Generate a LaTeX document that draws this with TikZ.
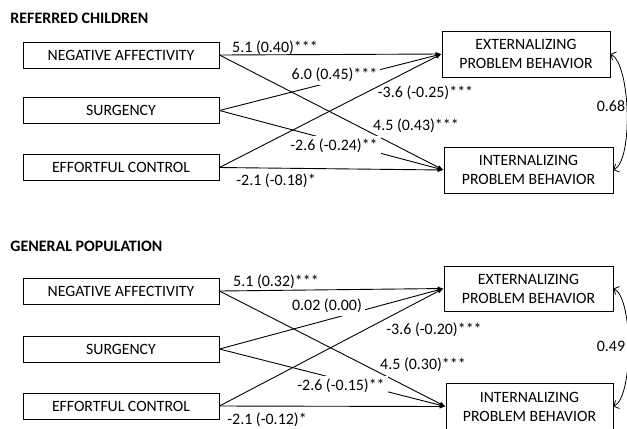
\documentclass[tikz,border=0pt]{standalone}
\usepackage{fontspec}
\setmainfont{Carlito}
\usetikzlibrary{arrows.meta}
\begin{document}
\begin{tikzpicture}[x=1bp,y=-1bp, line width=0.9bp,
  box/.style={draw, minimum width=196bp, minimum height=26bp, inner sep=0pt, font=\fontsize{15.8}{18}\selectfont},
  outbox/.style={draw, align=center, minimum width=168bp, minimum height=46bp, inner sep=0pt, font=\fontsize{15.8}{19}\selectfont},
  ttl/.style={anchor=west, inner sep=0pt, font=\fontsize{16}{18}\selectfont\bfseries},
  lab/.style={inner sep=0.5bp, font=\fontsize{16}{19}\selectfont},
  labw/.style={lab, fill=white, inner sep=3bp},
  arr/.style={-{Latex[length=6bp,width=4.5bp]}},
  cov/.style={{Straight Barb[length=4bp,width=9bp]}-{Straight Barb[length=4bp,width=9bp]}, line width=0.8bp}]
\useasboundingbox (0,0) rectangle (627,428);
% ---------- top panel ----------
\node[ttl] (t1) at (10,18) {REFERRED CHILDREN};
\node[box] (na1) at (121,55) {NEGATIVE AFFECTIVITY};
\node[box] (su1) at (121,110.5) {SURGENCY};
\node[box] (ec1) at (121,167.5) {EFFORTFUL CONTROL};
\node[outbox] (ex1) at (526,54) {EXTERNALIZING\\PROBLEM BEHAVIOR};
\node[outbox, minimum width=169bp] (in1) at (528.5,170) {INTERNALIZING\\PROBLEM BEHAVIOR};
\draw[arr] (na1.east) -- (ex1.west);
\draw[arr] (na1.east) -- (in1.west);
\draw[arr] (su1.east) -- (ex1.west);
\draw[arr] (su1.east) -- (in1.west);
\draw[arr] (ec1.east) -- (ex1.west);
\draw[arr] (ec1.east) -- (in1.west);
\draw[cov] (ex1.east) .. controls +(20,10) and +(20,-10) .. (in1.east);
\node[lab] (l11) at (275,48) {5.1 (0.40)***};
\node[labw] (l12) at (334.5,75) {6.0 (0.45)***};
\node[lab] (l13) at (425.5,93) {-3.6 (-0.25)***};
\node[lab] (l14) at (416,126) {4.5 (0.43)***};
\node[labw] (l15) at (334,146) {-2.6 (-0.24)**};
\node[lab] (l16) at (276,181) {-2.1 (-0.18)*};
\node[lab] (c1) at (611,106) {0.68};
% ---------- bottom panel ----------
\node[ttl] (t2) at (10,246.7) {GENERAL POPULATION};
\node[box] (na2) at (121,291) {NEGATIVE AFFECTIVITY};
\node[box] (su2) at (121,349) {SURGENCY};
\node[box] (ec2) at (121,406) {EFFORTFUL CONTROL};
\node[outbox, minimum width=169bp, minimum height=45bp] (ex2) at (528.5,288.5) {EXTERNALIZING\\PROBLEM BEHAVIOR};
\node[outbox, minimum width=167bp, minimum height=46bp] (in2) at (529.5,406.5) {INTERNALIZING\\PROBLEM BEHAVIOR};
\draw[arr] (na2.east) -- (ex2.west);
\draw[arr] (na2.east) -- (in2.west);
\draw[arr] (su2.east) -- (ex2.west);
\draw[arr] (su2.east) -- (in2.west);
\draw[arr] (ec2.east) -- (ex2.west);
\draw[arr] (ec2.east) -- (in2.west);
\draw[cov] (ex2.east) .. controls +(20,10) and +(20,-10) .. (in2.east);
\node[lab] (l21) at (276,282) {5.1 (0.32)***};
\node[labw] (l22) at (327,306) {0.02 (0.00)};
\node[lab] (l23) at (434,330) {-3.6 (-0.20)***};
\node[lab] (l24) at (423,365) {4.5 (0.30)***};
\node[labw] (l25) at (341,386) {-2.6 (-0.15)**};
\node[lab] (l26) at (267,420) {-2.1 (-0.12)*};
\node[lab] (c2) at (611,346) {0.49};
\end{tikzpicture}
\end{document}
